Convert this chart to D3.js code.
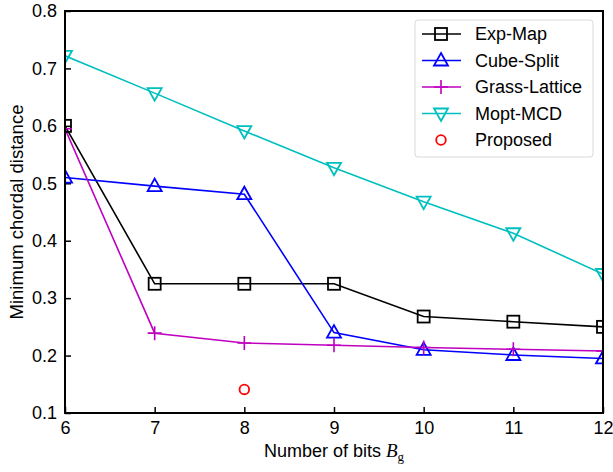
<!DOCTYPE html>
<html><head><meta charset="utf-8">
<script src="https://cdn.jsdelivr.net/npm/d3@7"></script>
<style>body{margin:0;background:#fff}svg{display:block}</style>
</head><body>
<svg id="c" width="613" height="472"></svg>
<script>
const bits = [6,7,8,9,10,11,12];
const expMap = [0.6,0.325,0.325,0.325,0.268,0.259,0.25];
const cubeSplit = [0.51,0.495,0.481,0.24,0.21,0.201,0.195];
const grassLattice = [0.595,0.239,0.222,0.218,0.214,0.211,0.208];
const moptMCD = [0.722,0.657,0.591,0.527,0.468,0.413,0.342];
const proposedBits = [8];
const proposed = [0.141];
const yTicks = [0.1,0.2,0.3,0.4,0.5,0.6,0.7,0.8];
const seriesNames = ["Exp-Map","Cube-Split","Grass-Lattice","Mopt-MCD","Proposed"];

const svg = d3.select("#c");
const L=65,R=603,T=11,B=413;
const x = d3.scaleLinear().domain([6,12]).range([L,R]);
const y = d3.scaleLinear().domain([0.1,0.8]).range([B,T]);
const font = "Liberation Sans, Arial, sans-serif";

svg.append("defs").append("clipPath").attr("id","pc")
  .append("rect").attr("x",L).attr("y",T).attr("width",R-L).attr("height",B-T);

// axes
const gx = svg.append("g").attr("transform",`translate(0,${B})`)
  .call(d3.axisBottom(x).tickValues(bits).tickFormat(d3.format("d")).tickSizeInner(-6).tickSizeOuter(0).tickPadding(8));
const gy = svg.append("g").attr("transform",`translate(${L},0)`)
  .call(d3.axisLeft(y).tickValues(yTicks).tickFormat(d3.format(".1f")).tickSizeInner(-6).tickSizeOuter(0).tickPadding(8));
[gx,gy].forEach(g=>{
  g.select(".domain").remove();
  g.selectAll("line").attr("stroke","#000").attr("stroke-width",1.5);
  g.selectAll("text").attr("font-family",font).attr("font-size",18).attr("fill","#000");
});

const series = [
  {name:seriesNames[0], vals:expMap, color:"#000000", marker:"square"},
  {name:seriesNames[1], vals:cubeSplit, color:"#0000ff", marker:"up"},
  {name:seriesNames[2], vals:grassLattice, color:"#bf00bf", marker:"plus"},
  {name:seriesNames[3], vals:moptMCD, color:"#00bfbf", marker:"down"},
];

function drawMarker(g, type, cx, cy, color){
  if(type==="square"){
    g.append("rect").attr("x",cx-6).attr("y",cy-6).attr("width",12).attr("height",12)
      .attr("fill","none").attr("stroke",color).attr("stroke-width",1.8);
  } else if(type==="up"){
    g.append("path").attr("d",`M${cx},${cy-7.5}L${cx+7},${cy+5}L${cx-7},${cy+5}Z`)
      .attr("fill","none").attr("stroke",color).attr("stroke-width",1.8);
  } else if(type==="down"){
    g.append("path").attr("d",`M${cx},${cy+7.5}L${cx+7},${cy-5}L${cx-7},${cy-5}Z`)
      .attr("fill","none").attr("stroke",color).attr("stroke-width",1.8);
  } else if(type==="plus"){
    g.append("path").attr("d",`M${cx-7},${cy}H${cx+7}M${cx},${cy-7}V${cy+7}`)
      .attr("fill","none").attr("stroke",color).attr("stroke-width",1.6);
  } else if(type==="circle"){
    g.append("circle").attr("cx",cx).attr("cy",cy).attr("r",4.8)
      .attr("fill","none").attr("stroke",color).attr("stroke-width",1.8);
  }
}

const plot = svg.append("g").attr("clip-path","url(#pc)");
const line = d3.line().x((d,i)=>x(bits[i])).y(d=>y(d));
series.forEach(s=>{
  plot.append("path").attr("d",line(s.vals)).attr("fill","none").attr("stroke",s.color).attr("stroke-width",1.6);
});
series.forEach(s=>{
  const g = plot.append("g");
  s.vals.forEach((v,i)=>drawMarker(g,s.marker,x(bits[i]),y(v),s.color));
});
proposed.forEach((v,i)=>drawMarker(plot,"circle",x(proposedBits[i]),y(v),"#ff0000"));

// frame
svg.append("rect").attr("x",L).attr("y",T).attr("width",R-L).attr("height",B-T)
  .attr("fill","none").attr("stroke","#000").attr("stroke-width",2);

// legend
const lg = svg.append("g");
lg.append("rect").attr("x",415).attr("y",20).attr("width",178).attr("height",137).attr("rx",3)
  .attr("fill","#fff").attr("stroke","#d9d9d9").attr("stroke-width",1);
const legItems = series.map(s=>({name:s.name,color:s.color,marker:s.marker,line:true}))
  .concat([{name:seriesNames[4],color:"#ff0000",marker:"circle",line:false}]);
legItems.forEach((it,i)=>{
  const cy = 34 + i*26.5;
  if(it.line) lg.append("line").attr("x1",422).attr("x2",461).attr("y1",cy).attr("y2",cy)
    .attr("stroke",it.color).attr("stroke-width",1.6);
  drawMarker(lg,it.marker,441,cy,it.color);
  lg.append("text").attr("x",475).attr("y",cy).attr("dy","0.35em")
    .attr("font-family",font).attr("font-size",18).attr("fill","#000").text(it.name);
});

// axis labels
const xl = svg.append("text").attr("x",334).attr("y",457).attr("text-anchor","middle")
  .attr("font-family",font).attr("font-size",18).attr("fill","#000");
xl.append("tspan").text("Number of bits ");
xl.append("tspan").attr("font-family","Liberation Serif, Times New Roman, serif").attr("font-style","italic").attr("font-size",19).text("B");
xl.append("tspan").attr("font-family","Liberation Serif, Times New Roman, serif").attr("font-size",13).attr("dy",4).text("g");

svg.append("text").attr("transform",`translate(23,${(T+B)/2}) rotate(-90)`).attr("text-anchor","middle")
  .attr("font-family",font).attr("font-size",18.5).attr("fill","#000").text("Minimum chordal distance");
</script>
</body></html>
